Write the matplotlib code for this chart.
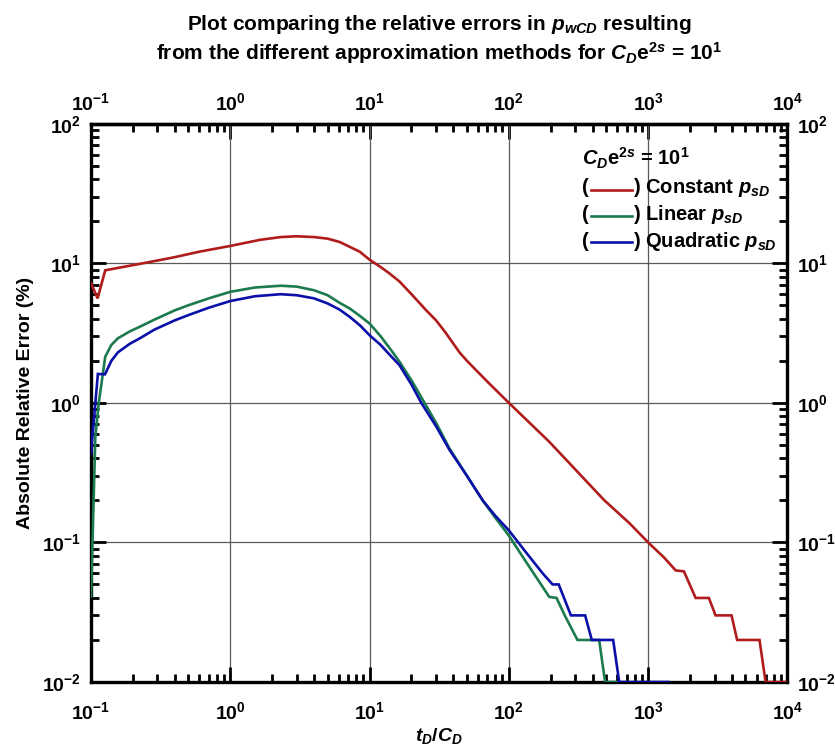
import matplotlib
matplotlib.use('Agg')
import matplotlib.pyplot as plt
from matplotlib import font_manager
from matplotlib.ticker import FixedLocator, NullFormatter

names = {f.name for f in font_manager.fontManager.ttflist}
narrow = 'Liberation Sans Narrow' if 'Liberation Sans Narrow' in names else 'Liberation Sans'

plt.rcParams['font.family'] = [narrow, 'DejaVu Sans']
plt.rcParams['font.weight'] = 'bold'
plt.rcParams['axes.labelweight'] = 'bold'
plt.rcParams['mathtext.fontset'] = 'custom'
plt.rcParams['mathtext.rm'] = narrow + ':bold'
plt.rcParams['mathtext.it'] = narrow + ':italic:bold'
plt.rcParams['mathtext.bf'] = narrow + ':bold'

# Constant p_sD
t_const = [0.1, 0.1115, 0.1265, 0.16, 0.237, 0.39, 0.6, 1.0, 1.63, 2.3, 3.0, 4.0, 5.0, 6.1,
           8.5, 10.0, 12.0, 13.9, 16.4, 20.0, 25.5, 30.0, 35.0, 44.2, 50.0, 70.0, 100, 195,
           483, 736, 1000, 1300, 1578, 1808, 2193, 2730, 3048, 3971, 4356, 6306, 6970, 10000]
err_const = [7.2, 5.6, 8.9, 9.3, 10.0, 11.0, 12.1, 13.3, 14.7, 15.4, 15.6, 15.4, 15.0, 14.2,
             12.1, 10.6, 9.4, 8.45, 7.4, 6.0, 4.6, 3.9, 3.2, 2.3, 2.0, 1.42, 1.0, 0.526,
             0.201, 0.137, 0.1, 0.078, 0.063, 0.062, 0.04, 0.04, 0.03, 0.03, 0.02, 0.02, 0.01, 0.01]

# Linear p_sD
t_lin = [0.1, 0.1074, 0.1135, 0.1265, 0.14, 0.156, 0.19, 0.223, 0.286, 0.4, 0.5, 0.7, 1.0,
         1.5, 2.3, 3.0, 4.0, 5.0, 6.1, 7.2, 8.5, 10, 12, 14, 16.4, 20, 24.8, 30, 37.5, 50,
         64.9, 80, 100, 125.6, 195, 220, 252, 311, 445, 491, 620]
err_lin = [0.041, 0.57, 0.99, 2.14, 2.6, 2.9, 3.25, 3.5, 3.95, 4.6, 5.0, 5.6, 6.24,
           6.7, 6.9, 6.8, 6.4, 5.9, 5.2, 4.74, 4.2, 3.7, 3.0, 2.45, 1.97, 1.45, 1.0, 0.72, 0.47, 0.3,
           0.2, 0.15, 0.112, 0.079, 0.0407, 0.04, 0.03, 0.02, 0.02, 0.01, 0.01]

# Quadratic p_sD
t_quad = [0.1, 0.112, 0.126, 0.14, 0.156, 0.19, 0.223, 0.286, 0.4, 0.5, 0.7, 1.0, 1.5, 2.3,
          3.0, 4.0, 5.0, 6.1, 7.2, 8.5, 10, 12, 14, 16.4, 20, 23.5, 30, 37.5, 50, 64.9, 80,
          100, 129, 175, 206, 228, 279, 353, 394, 561, 620, 1400]
err_quad = [0.435, 1.61, 1.6, 2.0, 2.3, 2.65, 2.89, 3.35, 3.9, 4.25, 4.8, 5.36, 5.8, 6.0,
            5.9, 5.6, 5.15, 4.65, 4.13, 3.6, 3.05, 2.6, 2.2, 1.86, 1.35, 1.0, 0.68, 0.46, 0.3, 0.2, 0.155,
            0.122, 0.088, 0.06, 0.05, 0.05, 0.03, 0.03, 0.02, 0.02, 0.01, 0.01]

x_decades = [1e-1, 1e0, 1e1, 1e2, 1e3, 1e4]

series = [
    (t_const, err_const, '#B01C1C', 'Constant'),
    (t_lin, err_lin, '#1B7A4E', 'Linear'),
    (t_quad, err_quad, '#0A10A8', 'Quadratic'),
]

fig = plt.figure(figsize=(8.35, 7.54), dpi=100)
ax = fig.add_axes([0.109, 0.0955, 0.834, 0.7405])

for t, e, c, _ in series:
    ax.plot(t, e, color=c, lw=1.9, solid_joinstyle='miter', zorder=3)

ax.set_xscale('log')
ax.set_yscale('log')
ax.set_xlim(0.1, 1e4)
ax.set_ylim(1e-2, 1e2)
ax.grid(True, which='major', color='0.35', lw=0.9)

for s in ax.spines.values():
    s.set_linewidth(2.4)
ax.tick_params(which='both', direction='in', top=False, right=True,
               labelright=True, width=2.0, labelsize=14, pad=7)
ax.tick_params(axis='x', which='both', pad=14)
ax.tick_params(which='major', length=11)
ax.tick_params(which='minor', length=6)

# top axis with its own label spacing, ticks kept inside the range
top = ax.secondary_xaxis('top')
top.xaxis.set_major_locator(FixedLocator(x_decades))
top.xaxis.set_minor_locator(FixedLocator([k * d for d in x_decades[:-1] for k in range(2, 10)]))
top.xaxis.set_minor_formatter(NullFormatter())
top.tick_params(which='both', direction='in', width=2.0, labelsize=14, pad=7)
top.tick_params(which='major', length=11)
top.tick_params(which='minor', length=6)
top.spines['top'].set_linewidth(2.4)

ax.set_xlabel(r'$t_D/C_D$', fontsize=14, labelpad=2)
ax.set_ylabel('Absolute Relative Error (%)', fontsize=14, labelpad=6)

fig.text(0.526, 0.968, r'Plot comparing the relative errors in $p_{wCD}$ resulting',
         ha='center', va='center', fontsize=15)
fig.text(0.526, 0.929, r'from the different approximation methods for $C_D\mathrm{e}^{2s}$ = 10$^1$',
         ha='center', va='center', fontsize=15)

# legend drawn by hand: "(----) label"
ax.text(0.7045, 0.9257, r'$C_D\mathrm{e}^{2s}$ = 10$^1$', transform=ax.transAxes,
        fontsize=14.5, va='baseline')
rows_base = [0.8750, 0.8272, 0.7794]
rows_line = [0.8818, 0.8349, 0.7873]
for (t, e, c, lab), yb, yl in zip(series, rows_base, rows_line):
    ax.text(0.7045, yb, '(', transform=ax.transAxes, fontsize=14.5, va='baseline')
    ax.plot([0.7179, 0.7763], [yl, yl], color=c, lw=1.9, transform=ax.transAxes, clip_on=False)
    ax.text(0.778, yb, ') ' + lab + r' $p_{sD}$', transform=ax.transAxes, fontsize=14.5, va='baseline')

plt.savefig('out.png', dpi=100)
